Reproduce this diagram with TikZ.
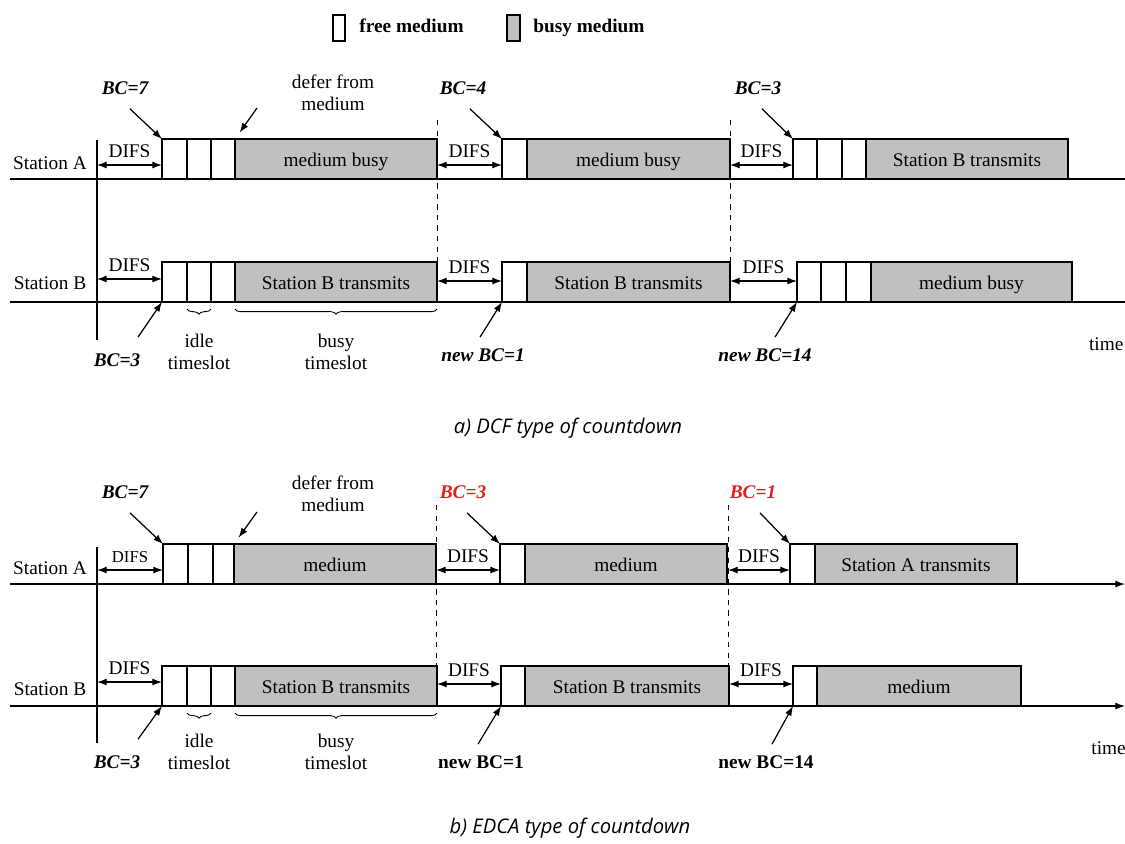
\documentclass[tikz,border=0pt]{standalone}
\usepackage{fontspec}
\setmainfont{Liberation Serif}
\newfontfamily\capfont{Open Sans}
\usetikzlibrary{arrows.meta,decorations.pathreplacing,positioning}
\definecolor{busygray}{RGB}{192,192,192}
\definecolor{bcred}{RGB}{232,28,28}
\newcommand{\basefont}{\fontsize{11}{12.5}\selectfont}

\begin{document}
\begin{tikzpicture}[x=0.02cm, y=-0.02cm, line width=0.7pt,
	every node/.style={font=\basefont, inner sep=1pt},
	free/.style={draw, fill=white, minimum height=0.8cm, inner sep=0pt, outer sep=0pt, text height=8.5pt, text depth=0.5pt, anchor=south west},
	busy/.style={free, fill=busygray},
	difs/.style={{Latex[length=5.5pt,width=4pt]}-{Latex[length=5.5pt,width=4pt]}},
	ptr/.style={-{Latex[length=5.5pt,width=4pt]}},
	bclab/.style={font=\basefont\bfseries\itshape},
	newbc/.style={font=\basefont\bfseries},
	slotbrace/.style={decorate, decoration={brace, mirror, amplitude=3pt}, line width=0.5pt},
	caption/.style={font=\capfont\fontsize{11.5}{13}\selectfont\itshape, text=black}]
	
	\useasboundingbox (0,0) rectangle (1125,843);
	
	% Legende
	\node[free, minimum width=0.24cm, minimum height=0.52cm] (legfree) at (333,41) {};
	\node[anchor=base west, font=\basefont\bfseries] (legfreetxt) at (357,32) {free medium};
	\node[busy, minimum width=0.26cm, minimum height=0.52cm] (legbusy) at (507,41) {};
	\node[anchor=base west, font=\basefont\bfseries] (legbusytxt) at (531,32) {busy medium};
	
	% ===== a) DCF =====
	\coordinate (aAstart) at (10,179);
	\coordinate (aAend) at (1125,179);
	\coordinate (aBstart) at (10,302);
	\coordinate (aBend) at (1125,302);
	\draw (aAstart) -- (aAend);
	\draw (aBstart) -- (aBend);
	\draw (97,140) -- (97,340);
	\draw[dashed, line width=0.5pt] (437,120) -- (437,262);
	\draw[dashed, line width=0.5pt] (730,120) -- (730,262);
	
	\node (aStaA) at (50,163) {Station A};
	\node (aStaB) at (50,283) {Station B};
	
	% --- Station A ---
	\node[free, minimum width=0.5cm] (aA1) at (162,179) {};
	\node[free, minimum width=0.48cm] (aA2) at (187,179) {};
	\node[free, minimum width=0.48cm] (aA3) at (211,179) {};
	\node[busy, minimum width=4.04cm] (aA4) at (235,179) {medium busy};
	\node[free, minimum width=0.5cm] (aA5) at (502,179) {};
	\node[busy, minimum width=4.06cm] (aA6) at (527,179) {medium busy};
	\node[free, minimum width=0.48cm] (aA7) at (793,179) {};
	\node[free, minimum width=0.5cm] (aA8) at (817,179) {};
	\node[free, minimum width=0.48cm] (aA9) at (842,179) {};
	\node[busy, minimum width=4.04cm] (aA10) at (866,179) {Station B transmits};
	
	\coordinate (aAt0) at (97,165);
	\coordinate (aAt1) at (437,165);
	\coordinate (aAt2) at (730,165);
	\draw[difs] (aAt0) -- node[above=3pt] (aAd1) {DIFS} (aAt0 -| aA1.west);
	\draw[difs] (aAt1) -- node[above=3pt] (aAd2) {DIFS} (aAt1 -| aA5.west);
	\draw[difs] (aAt2) -- node[above=3pt] (aAd3) {DIFS} (aAt2 -| aA7.west);
	
	\node[bclab] (aBC7) at (125,88) {BC=7};
	\node[bclab] (aBC4) at (463,88) {BC=4};
	\node[bclab] (aBC3) at (758,88) {BC=3};
	\draw[ptr] ([shift={(5,12)}]aBC7.south) -- (aA1.north west);
	\draw[ptr] ([shift={(7,12)}]aBC4.south) -- (aA5.north west);
	\draw[ptr] ([shift={(4,12)}]aBC3.south) -- (aA7.north west);
	
	\node[align=center] (aDefer) at (333,93) {defer from\\medium};
	\coordinate (aDeferTail) at (257,108);
	\draw[ptr, shorten >=4.5pt] (aDeferTail) -- (aA4.north west);
	
	% --- Station B ---
	\node[free, minimum width=0.5cm] (aB1) at (162,302) {};
	\node[free, minimum width=0.48cm] (aB2) at (187,302) {};
	\node[free, minimum width=0.48cm] (aB3) at (211,302) {};
	\node[busy, minimum width=4.04cm] (aB4) at (235,302) {Station B transmits};
	\node[free, minimum width=0.5cm] (aB5) at (502,302) {};
	\node[busy, minimum width=4.06cm] (aB6) at (527,302) {Station B transmits};
	\node[free, minimum width=0.48cm] (aB7) at (797,302) {};
	\node[free, minimum width=0.5cm] (aB8) at (821,302) {};
	\node[free, minimum width=0.5cm] (aB9) at (846,302) {};
	\node[busy, minimum width=4.02cm] (aB10) at (871,302) {medium busy};
	
	\coordinate (aBt0) at (97,279);
	\coordinate (aBt1) at (437,281);
	\coordinate (aBt2) at (730,281);
	\draw[difs] (aBt0) -- node[above=3pt] (aBd1) {DIFS} (aBt0 -| aB1.west);
	\draw[difs] (aBt1) -- node[above=3pt] (aBd2) {DIFS} (aBt1 -| aB5.west);
	\draw[difs] (aBt2) -- node[above=3pt] (aBd3) {DIFS} (aBt2 -| aB7.west);
	
	\draw[slotbrace] ([yshift=-4pt]aB2.south west) -- ([yshift=-4pt]aB2.south east);
	\draw[slotbrace] ([yshift=-4pt]aB4.south west) -- ([yshift=-4pt]aB4.south east);
	\node[align=center] (aIdle) at (199,352) {idle\\timeslot};
	\node[align=center] (aBusy) at (336,352) {busy\\timeslot};
	
	\node[bclab] (aBBC3) at (117,360) {BC=3};
	\node[bclab] (aNew1) at (483,355) {new BC=1};
	\node[bclab] (aNew14) at (765,355) {new BC=14};
	\draw[ptr] ([shift={(21,-14)}]aBBC3.north) -- (aB1.south west);
	\draw[ptr] ([shift={(-3,-9)}]aNew1.north) -- (aB5.south west);
	\draw[ptr] ([shift={(10,-9)}]aNew14.north) -- (aB7.south west);
	
	\node[anchor=east, inner sep=0pt] (aTime) at (1124,344) {time};
	\node[caption] (capA) at (568,428) {a) DCF type of countdown};
	
	% ===== b) EDCA =====
	\coordinate (bAstart) at (10,584);
	\coordinate (bAend) at (1125,584);
	\coordinate (bBstart) at (10,706);
	\coordinate (bBend) at (1125,706);
	\draw[ptr] (bAstart) -- (bAend);
	\draw[ptr] (bBstart) -- (bBend);
	\draw (97,547) -- (97,743);
	\draw[dashed, line width=0.5pt] (436,505) -- (436,666);
	\draw[dashed, line width=0.5pt] (728,505) -- (728,666);
	
	\node (bStaA) at (50,568) {Station A};
	\node (bStaB) at (50,689) {Station B};
	
	% --- Station A ---
	\node[free, minimum width=0.5cm] (bA1) at (163,584) {};
	\node[free, minimum width=0.5cm] (bA2) at (188,584) {};
	\node[free, minimum width=0.42cm] (bA3) at (213,584) {};
	\node[busy, minimum width=4.04cm] (bA4) at (234,584) {medium};
	\node[free, minimum width=0.5cm] (bA5) at (500,584) {};
	\node[busy, minimum width=4.04cm] (bA6) at (525,584) {medium};
	\node[free, minimum width=0.5cm] (bA7) at (790,584) {};
	\node[busy, minimum width=4.04cm] (bA8) at (815,584) {Station A transmits};
	
	\coordinate (bAt0) at (97,570);
	\coordinate (bAt1) at (436,570);
	\coordinate (bAt2) at (728,570);
	\draw[difs] (bAt0) -- node[above=3pt, font=\fontsize{9.5}{11}\selectfont] (bAd1) {DIFS} (bAt0 -| bA1.west);
	\draw[difs] (bAt1) -- node[above=3pt] (bAd2) {DIFS} (bAt1 -| bA5.west);
	\draw[difs] (bAt2) -- node[above=3pt] (bAd3) {DIFS} (bAt2 -| bA7.west);
	
	\node[bclab] (bBC7) at (125,492) {BC=7};
	\node[bclab, text=bcred] (bBC3) at (463,492) {BC=3};
	\node[bclab, text=bcred] (bBC1) at (753,492) {BC=1};
	\draw[ptr] ([shift={(5,12)}]bBC7.south) -- (bA1.north west);
	\draw[ptr] ([shift={(4,12)}]bBC3.south) -- (bA5.north west);
	\draw[ptr] ([shift={(7,12)}]bBC1.south) -- (bA7.north west);
	
	\node[align=center] (bDefer) at (333,494) {defer from\\medium};
	\coordinate (bDeferTail) at (257,512);
	\draw[ptr, shorten >=4.5pt] (bDeferTail) -- (bA4.north west);
	
	% --- Station B ---
	\node[free, minimum width=0.5cm] (bB1) at (162,706) {};
	\node[free, minimum width=0.48cm] (bB2) at (187,706) {};
	\node[free, minimum width=0.48cm] (bB3) at (211,706) {};
	\node[busy, minimum width=4.04cm] (bB4) at (235,706) {Station B transmits};
	\node[free, minimum width=0.48cm] (bB5) at (501,706) {};
	\node[busy, minimum width=4.08cm] (bB6) at (525,706) {Station B transmits};
	\node[free, minimum width=0.48cm] (bB7) at (793,706) {};
	\node[busy, minimum width=4.08cm] (bB8) at (817,706) {medium};
	
	\coordinate (bBt0) at (97,682);
	\coordinate (bBt1) at (437,684);
	\coordinate (bBt2) at (729,684);
	\draw[difs] (bBt0) -- node[above=3pt] (bBd1) {DIFS} (bBt0 -| bB1.west);
	\draw[difs] (bBt1) -- node[above=3pt] (bBd2) {DIFS} (bBt1 -| bB5.west);
	\draw[difs] (bBt2) -- node[above=3pt] (bBd3) {DIFS} (bBt2 -| bB7.west);
	
	\draw[slotbrace] ([yshift=-4pt]bB2.south west) -- ([yshift=-4pt]bB2.south east);
	\draw[slotbrace] ([yshift=-4pt]bB4.south west) -- ([yshift=-4pt]bB4.south east);
	\node[align=center] (bIdle) at (199,752) {idle\\timeslot};
	\node[align=center] (bBusy) at (336,752) {busy\\timeslot};
	
	\node[bclab] (bBBC3) at (117,762) {BC=3};
	\node[newbc] (bNew1) at (481,762) {new BC=1};
	\node[newbc] (bNew14) at (766,762) {new BC=14};
	\draw[ptr] ([shift={(21,-14)}]bBBC3.north) -- (bB1.south west);
	\draw[ptr] ([shift={(-3,-9)}]bNew1.north) -- (bB5.south west);
	\draw[ptr] ([shift={(6,-9)}]bNew14.north) -- (bB7.south west);
	
	\node[anchor=west] (bTime) at (1089,748) {time};
	\node[caption] (capB) at (570,828) {b) EDCA type of countdown};
	
\end{tikzpicture}
\end{document}
